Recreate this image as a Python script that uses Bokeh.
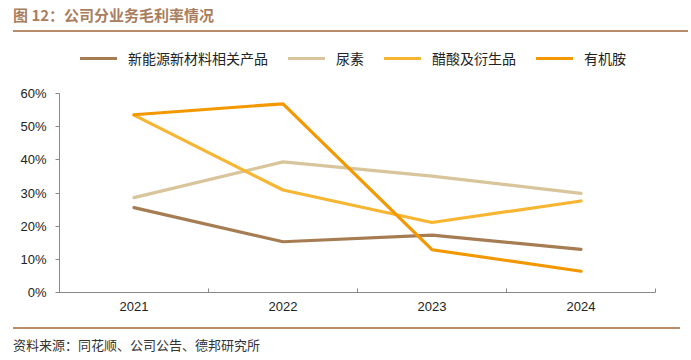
from bokeh.plotting import figure
from bokeh.models import (Div, Legend, LegendItem, FixedTicker, NumeralTickFormatter, Range1d, ColumnDataSource)
from bokeh.layouts import column
from bokeh.embed import file_html
from bokeh.resources import INLINE

years = ["2021", "2022", "2023", "2024"]
xpos = [0.5, 1.5, 2.5, 3.5]
names = ["新能源新材料相关产品", "尿素", "醋酸及衍生品", "有机胺"]
s_new = [0.256, 0.153, 0.173, 0.130]
s_urea = [0.286, 0.394, 0.351, 0.299]
s_acetic = [0.535, 0.309, 0.211, 0.276]
s_amine = [0.536, 0.569, 0.129, 0.064]
colors = ["#A67C52", "#D9C59C", "#F7B531", "#F39800"]
yticks = [0, 0.1, 0.2, 0.3, 0.4, 0.5, 0.6]

CJK = "'Noto Sans CJK SC', sans-serif"

title = Div(
    text=f'<div style="position:relative;width:675px;height:28px;">'
         f'<div style="position:absolute;left:8px;top:0px;font-family:{CJK};font-size:15px;'
         f'font-weight:bold;color:#A97E5E;line-height:20px;white-space:nowrap;">图 12：公司分业务毛利率情况</div>'
         f'<div style="position:absolute;left:8px;top:25px;width:675px;height:2px;background:#B88B69;"></div>'
         f'</div>',
    width=675, height=28)

# frame: 60% sits 199px above 0%; extra headroom above holds the legend
px_per_unit = 199 / 0.6
ytop = 0.6 + 44 / px_per_unit

p = figure(width=675, height=284, output_backend="svg", toolbar_location=None,
           x_range=Range1d(0, 4), y_range=Range1d(0, ytop),
           min_border_left=59, min_border_right=20, min_border_top=11, min_border_bottom=30)
p.outline_line_color = None
p.xgrid.visible = False
p.ygrid.visible = False
p.background_fill_color = "white"
p.border_fill_color = "white"

series = [s_new, s_urea, s_acetic, s_amine]
renderers = []
for name, vals, c in zip(names, series, colors):
    src = ColumnDataSource(dict(x=xpos, y=vals))
    r = p.line("x", "y", source=src, line_color=c, line_width=3.2, line_cap="round")
    renderers.append(r)

xa = p.xaxis[0]
xa.ticker = FixedTicker(ticks=xpos, minor_ticks=[0, 1, 2, 3, 4])
xa.major_label_overrides = {x: y for x, y in zip(xpos, years)}
xa.major_tick_in = 0
xa.major_tick_out = 0
xa.minor_tick_in = 4
xa.minor_tick_out = 0
xa.minor_tick_line_color = "#898989"
xa.axis_line_color = "#898989"
xa.major_label_text_font = "Liberation Sans"
xa.major_label_text_font_size = "13px"
xa.major_label_text_color = "#222222"
xa.major_label_standoff = 9

ya = p.yaxis[0]
ya.bounds = (0, 0.6)
ya.ticker = FixedTicker(ticks=yticks, minor_ticks=[])
ya.formatter = NumeralTickFormatter(format="0%")
ya.major_tick_in = 0
ya.major_tick_out = 4
ya.major_tick_line_color = "#898989"
ya.axis_line_color = "#898989"
ya.major_label_text_font = "Liberation Sans"
ya.major_label_text_font_size = "13px"
ya.major_label_text_color = "#222222"
ya.major_label_standoff = 9

legend = Legend(items=[LegendItem(label=n, renderers=[r]) for n, r in zip(names, renderers)],
                orientation="horizontal", location=(21, 224),
                glyph_width=37, glyph_height=14, label_standoff=11, spacing=20,
                padding=0, margin=0, border_line_color=None, background_fill_alpha=0,
                label_text_font="Noto Sans CJK SC", label_text_font_size="14px",
                label_text_color="#222222", label_height=14)
p.add_layout(legend)

footer = Div(
    text=f'<div style="margin-left:8px;width:667px;margin-top:0px;border-top:2px solid #B88B69;'
         f'font-family:{CJK};font-size:13px;line-height:16px;color:#333333;padding-top:8px;">'
         f'资料来源：同花顺、公司公告、德邦研究所</div>',
    width=675, height=36)

layout = column(title, p, footer, spacing=0)
open("out.html", "w").write(file_html(layout, INLINE))
